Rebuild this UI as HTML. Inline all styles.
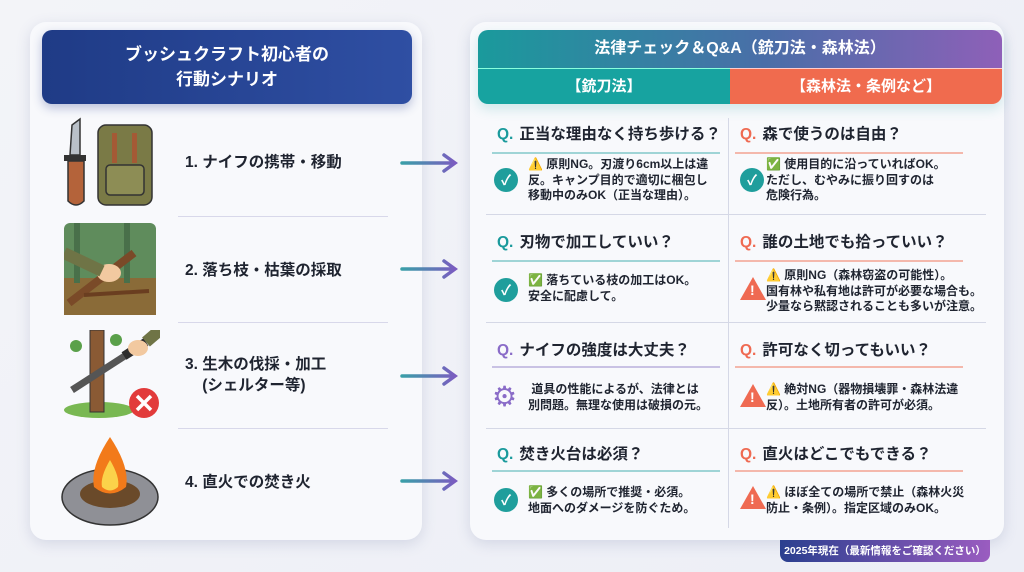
<!DOCTYPE html>
<html><head><meta charset="utf-8"><style>
*{margin:0;padding:0;box-sizing:border-box}
body{width:1024px;height:572px;overflow:hidden;background:linear-gradient(135deg,#f3f4f8,#eceef6);font-family:"Liberation Sans","Noto Sans CJK JP",sans-serif;position:relative;color:#1f2430}
.a{position:absolute}
.card{background:#f8f9fc;border-radius:16px;box-shadow:0 4px 14px rgba(90,100,150,.18)}
.q{position:absolute;font-size:15.5px;font-weight:bold;white-space:nowrap}
.q b{margin-right:6px}
.ul{position:absolute;height:2px;width:228px}
.t{position:absolute;font-size:12px;font-weight:bold;line-height:15.5px;white-space:nowrap}
.ic{position:absolute;width:24px;height:24px;border-radius:50%;background:#1f9e9c;color:#fff;font-size:14px;font-weight:bold;text-align:center;line-height:24px}
.warn{position:absolute;width:0;height:0;border-left:13px solid transparent;border-right:13px solid transparent;border-bottom:23px solid #ef6a52}
.warn span{position:absolute;left:-3px;top:5px;color:#fff;font-size:14px;font-weight:bold}
.step{position:absolute;left:185px;font-size:15.5px;font-weight:bold;line-height:21px}
.div{position:absolute;left:178px;width:210px;height:1px;background:#d8d8ea}
.arr{position:absolute;left:400px;width:58px;height:22px}
.hd{position:absolute;height:1px;left:486px;width:500px;background:#d5d8e6}
</style></head><body>
<!-- left card -->
<div class="a card" style="left:30px;top:22px;width:392px;height:518px"></div>
<div class="a" style="left:42px;top:30px;width:370px;height:74px;border-radius:10px;background:linear-gradient(90deg,#1f3b86,#2f4fa3);box-shadow:0 4px 10px rgba(40,60,140,.3);color:#fff;font-size:17px;font-weight:bold;text-align:center;line-height:25px;padding-top:12px">ブッシュクラフト初心者の<br>行動シナリオ</div>

<!-- icons -->
<svg class="a" style="left:60px;top:115px" width="102" height="100">
<path d="M12 10 L20 4 L20 40 L10 40 Z" fill="#b9c0c8" stroke="#333" stroke-width="1.5"/>
<rect x="4" y="40" width="22" height="6" fill="#333"/>
<path d="M8 46 h16 v40 q-8 8 -16 0z" fill="#b4633a" stroke="#333" stroke-width="1.5"/>
<rect x="38" y="10" width="54" height="80" rx="8" fill="#7a7a46" stroke="#333" stroke-width="1.5"/>
<rect x="46" y="50" width="38" height="30" rx="4" fill="#8d8d55" stroke="#333" stroke-width="1.5"/>
<rect x="52" y="18" width="5" height="30" fill="#a45a35"/><rect x="72" y="18" width="5" height="30" fill="#a45a35"/>
</svg>
<svg class="a" style="left:64px;top:223px" width="92" height="92">
<rect width="92" height="92" rx="6" fill="#5f8c5c"/>
<rect y="55" width="92" height="37" fill="#8a6b38"/>
<rect x="10" y="0" width="6" height="60" fill="#49704a"/><rect x="60" y="0" width="6" height="60" fill="#49704a"/>
<path d="M5 80 L70 30" stroke="#7a4a28" stroke-width="8"/>
<path d="M20 72 L85 68" stroke="#6a3e20" stroke-width="4"/>
<ellipse cx="45" cy="50" rx="12" ry="9" fill="#f2c9a0"/>
<path d="M0 30 L38 48" stroke="#6f7446" stroke-width="12"/>
</svg>
<svg class="a" style="left:64px;top:330px" width="96" height="90">
<ellipse cx="35" cy="80" rx="35" ry="8" fill="#79b852"/>
<rect x="26" y="0" width="14" height="82" fill="#8a5a34" stroke="#333"/>
<circle cx="12" cy="16" r="6" fill="#5aa04a"/><circle cx="52" cy="10" r="6" fill="#5aa04a"/>
<path d="M8 60 L70 20" stroke="#555" stroke-width="7"/>
<path d="M60 26 L82 12" stroke="#2d2d2d" stroke-width="9"/>
<ellipse cx="74" cy="18" rx="10" ry="8" fill="#f2c9a0"/>
<path d="M82 12 L96 0" stroke="#6f7446" stroke-width="12"/>
<circle cx="80" cy="73" r="15" fill="#e23b3b"/>
<path d="M73 66 l14 14 M87 66 l-14 14" stroke="#fff" stroke-width="3.5"/>
</svg>
<svg class="a" style="left:60px;top:432px" width="102" height="100">
<ellipse cx="50" cy="65" rx="48" ry="28" fill="#8f9096" stroke="#333" stroke-width="1.5"/>
<ellipse cx="50" cy="62" rx="30" ry="14" fill="#6a4a2a"/>
<path d="M50 5 Q30 35 34 55 Q50 68 66 55 Q70 35 50 5Z" fill="#f27a1a"/>
<path d="M50 28 Q40 45 42 55 Q50 62 58 55 Q60 45 50 28Z" fill="#fbd34a"/>
</svg>

<div class="step" style="top:152px">1. ナイフの携帯・移動</div>
<div class="div" style="top:216px"></div>
<div class="step" style="top:260px">2. 落ち枝・枯葉の採取</div>
<div class="div" style="top:322px"></div>
<div class="step" style="top:354px">3. 生木の伐採・加工<br>&nbsp;&nbsp;&nbsp;&nbsp;(シェルター等)</div>
<div class="div" style="top:428px"></div>
<div class="step" style="top:472px">4. 直火での焚き火</div>

<svg width="0" height="0"><defs><linearGradient id="ag" x1="0" x2="1"><stop offset="0" stop-color="#3a9fa8"/><stop offset="1" stop-color="#7a5cc0"/></linearGradient></defs></svg>
<svg class="arr" style="top:152px"><path d="M2 11 H54 M44 3 L55 11 L44 19" stroke="url(#ag)" stroke-width="3.5" fill="none" stroke-linecap="round"/></svg>
<svg class="arr" style="top:258px"><path d="M2 11 H54 M44 3 L55 11 L44 19" stroke="url(#ag)" stroke-width="3.5" fill="none" stroke-linecap="round"/></svg>
<svg class="arr" style="top:365px"><path d="M2 11 H54 M44 3 L55 11 L44 19" stroke="url(#ag)" stroke-width="3.5" fill="none" stroke-linecap="round"/></svg>
<svg class="arr" style="top:470px"><path d="M2 11 H54 M44 3 L55 11 L44 19" stroke="url(#ag)" stroke-width="3.5" fill="none" stroke-linecap="round"/></svg>

<!-- right card -->
<div class="a card" style="left:470px;top:22px;width:534px;height:518px"></div>
<div class="a" style="left:478px;top:30px;width:524px;height:74px;border-radius:10px;overflow:hidden;box-shadow:0 5px 12px rgba(40,160,160,.2)">
 <div class="a" style="left:0;top:0;width:524px;height:38px;background:linear-gradient(90deg,#1a9a9c,#4a6ea8 55%,#8e60b8);color:#fff;font-size:16px;font-weight:bold;text-align:center;line-height:38px">法律チェック＆Q&amp;A（銃刀法・森林法）</div>
 <div class="a" style="left:0;top:38px;width:252px;height:36px;background:#17a3a0;color:#fff;font-size:15px;font-weight:bold;text-align:center;line-height:36px;border-top:1px solid #8fd">【銃刀法】</div>
 <div class="a" style="left:252px;top:38px;width:272px;height:36px;background:#f06b4e;color:#fff;font-size:15px;font-weight:bold;text-align:center;line-height:36px;border-top:1px solid #fcc">【森林法・条例など】</div>
</div>
<div class="a" style="left:728px;top:118px;width:1px;height:410px;background:#d5d8e6"></div>
<div class="hd" style="top:214px"></div><div class="hd" style="top:322px"></div><div class="hd" style="top:428px"></div>

<!-- row1 -->
<div class="q" style="left:497px;top:122px"><b style="color:#1a9a9c">Q.</b>正当な理由なく持ち歩ける？</div>
<div class="ul" style="left:492px;top:152px;background:#9fd4d6"></div>
<div class="ic" style="left:494px;top:168px">✓</div>
<div class="t" style="left:528px;top:157px">⚠️ 原則NG。刃渡り6cm以上は違<br>反。キャンプ目的で適切に梱包し<br>移動中のみOK（正当な理由）。</div>
<div class="q" style="left:740px;top:122px"><b style="color:#ef6a52">Q.</b>森で使うのは自由？</div>
<div class="ul" style="left:735px;top:152px;background:#f4b8ac"></div>
<div class="ic" style="left:740px;top:168px">✓</div>
<div class="t" style="left:766px;top:157px">✅ 使用目的に沿っていればOK。<br>ただし、むやみに振り回すのは<br>危険行為。</div>
<!-- row2 -->
<div class="q" style="left:497px;top:230px"><b style="color:#1a9a9c">Q.</b>刃物で加工していい？</div>
<div class="ul" style="left:492px;top:260px;background:#9fd4d6"></div>
<div class="ic" style="left:494px;top:278px">✓</div>
<div class="t" style="left:528px;top:273px">✅ 落ちている枝の加工はOK。<br>安全に配慮して。</div>
<div class="q" style="left:740px;top:230px"><b style="color:#ef6a52">Q.</b>誰の土地でも拾っていい？</div>
<div class="ul" style="left:735px;top:260px;background:#f4b8ac"></div>
<div class="warn" style="left:740px;top:277px"><span>!</span></div>
<div class="t" style="left:766px;top:268px">⚠️ 原則NG（森林窃盗の可能性）。<br>国有林や私有地は許可が必要な場合も。<br>少量なら黙認されることも多いが注意。</div>
<!-- row3 -->
<div class="q" style="left:497px;top:338px"><b style="color:#8a6cc8">Q.</b>ナイフの強度は大丈夫？</div>
<div class="ul" style="left:492px;top:366px;background:#c9c2e4"></div>
<div class="a" style="left:492px;top:384px;color:#8a6cc8;font-size:28px;line-height:26px">⚙</div>
<div class="t" style="left:528px;top:382px">&nbsp;道具の性能によるが、法律とは<br>別問題。無理な使用は破損の元。</div>
<div class="q" style="left:740px;top:338px"><b style="color:#ef6a52">Q.</b>許可なく切ってもいい？</div>
<div class="ul" style="left:735px;top:366px;background:#f4b8ac"></div>
<div class="warn" style="left:740px;top:384px"><span>!</span></div>
<div class="t" style="left:766px;top:382px">⚠️ 絶対NG（器物損壊罪・森林法違<br>反）。土地所有者の許可が必須。</div>
<!-- row4 -->
<div class="q" style="left:497px;top:442px"><b style="color:#1a9a9c">Q.</b>焚き火台は必須？</div>
<div class="ul" style="left:492px;top:470px;background:#9fd4d6"></div>
<div class="ic" style="left:494px;top:488px">✓</div>
<div class="t" style="left:528px;top:485px">✅ 多くの場所で推奨・必須。<br>地面へのダメージを防ぐため。</div>
<div class="q" style="left:740px;top:442px"><b style="color:#ef6a52">Q.</b>直火はどこでもできる？</div>
<div class="ul" style="left:735px;top:470px;background:#f4b8ac"></div>
<div class="warn" style="left:740px;top:486px"><span>!</span></div>
<div class="t" style="left:766px;top:485px">⚠️ ほぼ全ての場所で禁止（森林火災<br>防止・条例）。指定区域のみOK。</div>

<div class="a" style="left:780px;top:540px;width:210px;height:22px;border-radius:0 0 8px 8px;background:linear-gradient(90deg,#2a3f8f,#9a5cc0);color:#fff;font-size:10.5px;font-weight:bold;text-align:center;line-height:22px">2025年現在（最新情報をご確認ください）</div>
</body></html>
